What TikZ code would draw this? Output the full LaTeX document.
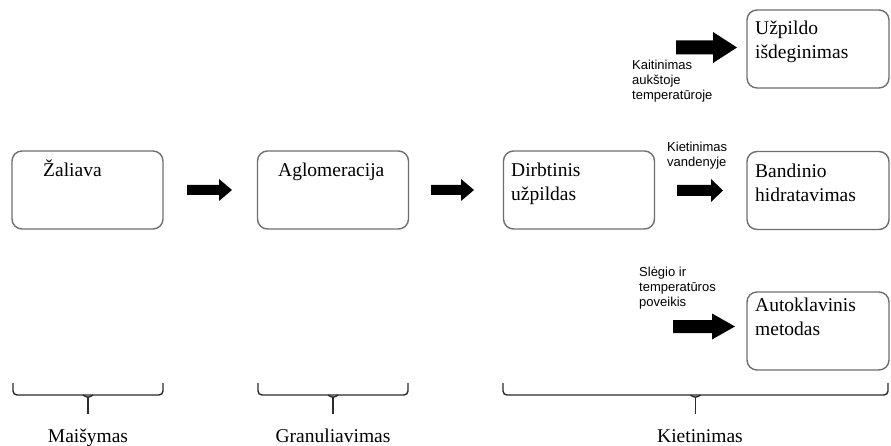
\documentclass[tikz,border=0pt]{standalone}
\usepackage{fontspec}
\setmainfont{Liberation Serif}
\setsansfont{Liberation Sans}
\usepackage{tikz}
\usetikzlibrary{calc}

\definecolor{boxgray}{HTML}{6E6E6E}
\definecolor{bracegray}{HTML}{2B2B2B}

% block arrow: tail, length, head length, half shaft, half head
\newcommand{\fatarrow}[5]{%
  \fill[black] (#1) ++(0,#4) -- ++({#2-#3},0) -- ++(0,{#5-#4}) -- ++(#3,{-#5})
    -- ++({-#3},{-#5}) -- ++(0,{#5-#4}) -- ++({#3-#2},0) -- cycle;}

% underbrace: left end, right end
\newcommand{\stagebrace}[2]{%
  \draw[bracegray,line width=1.4pt,rounded corners=4pt]
    ($(#1)+(0,-12)$) -- (#1) -- (#2) -- ($(#2)+(0,-12)$);
  \draw[bracegray,line width=1.4pt,rounded corners=3pt]
    ($(#1)!0.5!(#2)+(-5,0)$) -- ($(#1)!0.5!(#2)+(0,3)$) -- ($(#1)!0.5!(#2)+(5,0)$);
  \draw[bracegray,line width=1.6pt] ($(#1)!0.5!(#2)+(0,2)$) -- ($(#1)!0.5!(#2)+(0,19)$);}

\begin{document}
\begin{tikzpicture}[x=1pt,y=-1pt]
	\tikzset{
		stage/.style={draw=boxgray,line width=1.4pt,rounded corners=10pt,
			minimum width=151pt,minimum height=78pt,inner sep=0pt},
		sidestage/.style={stage,minimum width=142pt},
		boxtext/.style={font=\fontsize{19.5}{24}\selectfont,align=left,inner sep=0pt},
		steptext/.style={font=\sffamily\fontsize{13}{15}\selectfont,align=left,inner sep=0pt},
		phasetext/.style={font=\fontsize{19.5}{24}\selectfont,inner sep=0pt}
	}
	\useasboundingbox (0,0) rectangle (891,446);
	
	\node[stage] (zal) at (87.5,190) {};
	\node[stage] (agl) at (333,190) {};
	\node[stage] (dirb) at (579,190) {};
	\node[sidestage] (band) at (818,190.5) {};
	\node[sidestage] (uzp) at (818,49) {};
	\node[sidestage] (auto) at (818,331) {};
	
	\node[boxtext,anchor=base west] (zaltxt) at (43,177) {Žaliava};
	\node[boxtext,anchor=base west] (agltxt) at (278,177) {Aglomeracija};
	\node[boxtext,anchor=base west] (dirbtxt) at (511,201) {Dirbtinis\\užpildas};
	\node[boxtext,anchor=base west] (bandtxt) at (755,202) {Bandinio\\hidratavimas};
	\node[boxtext,anchor=base west] (uzptxt) at (755,59) {Užpildo\\išdeginimas};
	\node[boxtext,anchor=base west] (autotxt) at (755,335) {Autoklavinis\\metodas};
	
	\coordinate (t1) at (187,190);
	\coordinate (t2) at (431,190);
	\coordinate (t3) at (677,190.5);
	\coordinate (t4) at (676,47.5);
	\coordinate (t5) at (673,326.5);
	\fatarrow{t1}{45}{13}{5}{11}
	\fatarrow{t2}{43}{13}{5}{11}
	\fatarrow{t3}{46}{12}{5.5}{11.5}
	\fatarrow{t4}{61}{24}{7}{15.5}
	\fatarrow{t5}{62}{23}{6.5}{13}
	
	\node[steptext,anchor=base west] (heat) at (632,100) {Kaitinimas\\aukštoje\\temperatūroje};
	\node[steptext,anchor=base west] (water) at (667,167) {Kietinimas\\vandenyje};
	\node[steptext,anchor=base west] (press) at (639,306) {Slėgio ir\\temperatūros\\poveikis};
	
	\coordinate (b1l) at (13,395);
	\coordinate (b1r) at (163,395);
	\coordinate (b2l) at (258,395);
	\coordinate (b2r) at (408,395);
	\coordinate (b3l) at (503,395);
	\coordinate (b3r) at (888,395);
	\stagebrace{b1l}{b1r}
	\stagebrace{b2l}{b2r}
	\stagebrace{b3l}{b3r}
	
	\node[phasetext,anchor=base] (mix) at (88,442) {Maišymas};
	\node[phasetext,anchor=base] (gran) at (333,442) {Granuliavimas};
	\node[phasetext,anchor=base] (cure) at (700,442) {Kietinimas};
	
\end{tikzpicture}
\end{document}
